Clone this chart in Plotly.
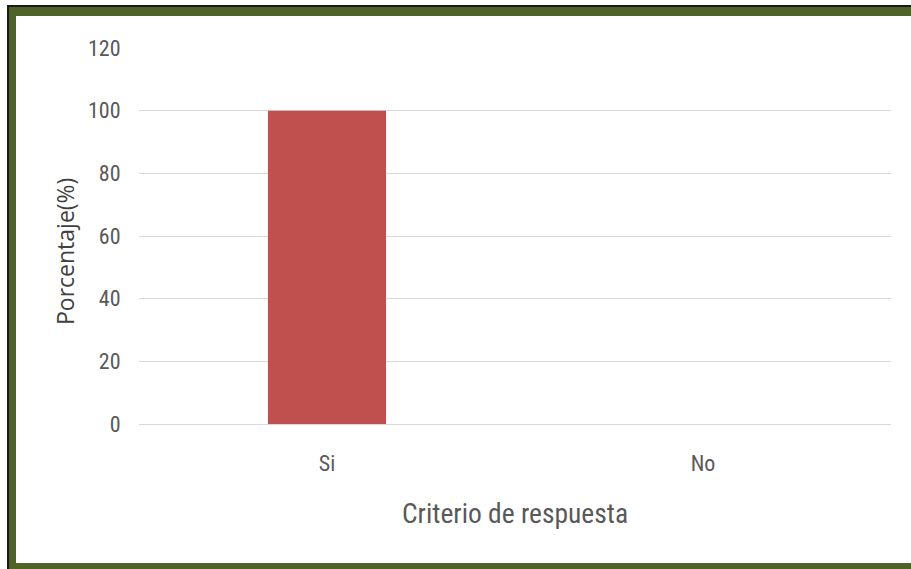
import plotly.graph_objects as go

categories = ["Si", "No"]
values = [100, 0]
y_ticks = [0, 20, 40, 60, 80, 100, 120]
x_title = "Criterio de respuesta"
y_title = "Porcentaje(%)"

W, H = 911, 569
L, R, T, B = 139, 20, 48, 145
pw, ph = W - L - R, H - T - B

def px(x):
    return (x - L) / pw

def py(y):
    return (H - B - y) / ph

fig = go.Figure()
fig.add_trace(go.Bar(x=categories, y=values, marker_color="#C0504D", marker_line_width=0,
                     width=0.314, hoverinfo="x+y"))

shapes = [
    dict(type="rect", xref="paper", yref="paper", x0=px(7), x1=px(W + 5), y0=py(5), y1=py(H + 5),
         fillcolor="#1a1a1a", line_width=0, layer="below"),
    dict(type="rect", xref="paper", yref="paper", x0=px(9), x1=px(W + 5), y0=py(7), y1=py(H + 5),
         fillcolor="#4F6228", line_width=0, layer="below"),
    dict(type="rect", xref="paper", yref="paper", x0=px(16), x1=px(W + 5), y0=py(16), y1=py(563),
         fillcolor="white", line_width=0, layer="below"),
]

font_narrow = "Roboto Condensed, Liberation Sans Narrow, Roboto, sans-serif"

annotations = [
    dict(text=x_title, xref="paper", yref="paper", x=px(515), y=py(513), showarrow=False,
         xanchor="center", yanchor="middle",
         font=dict(family=font_narrow, size=27.5, color="#595959")),
    dict(text=y_title, xref="paper", yref="paper", x=px(65), y=py(252), showarrow=False,
         xanchor="center", yanchor="middle", textangle=-90,
         font=dict(family="Open Sans, sans-serif", size=23, color="#404040")),
]

fig.update_layout(
    width=W, height=H,
    margin=dict(l=L, r=R, t=T, b=B, pad=0),
    paper_bgcolor="white",
    plot_bgcolor="rgba(0,0,0,0)",
    showlegend=False,
    shapes=shapes,
    annotations=annotations,
    xaxis=dict(
        showgrid=False, showline=False, zeroline=False,
        tickfont=dict(family=font_narrow, size=22, color="#595959"),
        ticks="outside", ticklen=20, tickcolor="rgba(0,0,0,0)",
    ),
    yaxis=dict(
        range=[0, 120], tickvals=y_ticks,
        showgrid=True, gridcolor="#D9D9D9", gridwidth=1,
        zeroline=True, zerolinecolor="#D9D9D9", zerolinewidth=1,
        showline=False,
        tickfont=dict(family=font_narrow, size=22, color="#595959"),
        ticks="outside", ticklen=13, tickcolor="rgba(0,0,0,0)",
    ),
)

fig.write_html("out.html")
